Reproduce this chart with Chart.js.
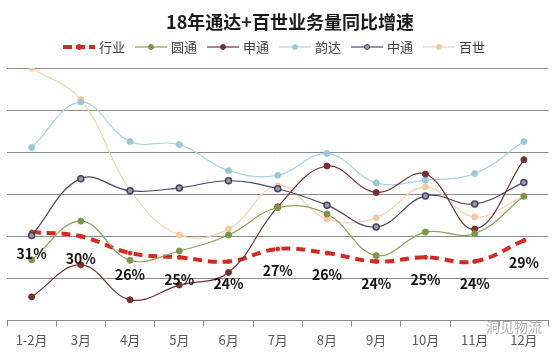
<!DOCTYPE html>
<html lang="zh">
<head>
<meta charset="utf-8">
<title>18年通达+百世业务量同比增速</title>
<script src="https://cdn.jsdelivr.net/npm/chart.js@4"></script>
<style>
    html, body { margin: 0; padding: 0; background: #fff; }
    #wrap { width: 554px; height: 354px; position: relative; }
</style>
</head>
<body>
<div id="wrap"><canvas id="growth-chart" width="554" height="354"></canvas></div>
<script>
// --- DATA ---
const TITLE = '18年通达+百世业务量同比增速';
const MONTHS = ['1-2月', '3月', '4月', '5月', '6月', '7月', '8月', '9月', '10月', '11月', '12月'];
const SERIES_NAMES = ['行业', '圆通', '申通', '韵达', '中通', '百世'];
const INDUSTRY = [31, 30, 26, 25, 24, 27, 26, 24, 25, 24, 29];
const YUANTONG = [24.4, 33.6, 24.3, 26.5, 30.3, 36.8, 35.3, 25.4, 31.0, 30.6, 39.5];
const SHENTONG = [15.6, 23.2, 14.9, 18.4, 21.4, 37.0, 46.7, 40.4, 44.8, 31.7, 48.2];
const YUNDA = [51.1, 61.9, 52.5, 51.8, 45.6, 44.5, 49.7, 42.7, 43.3, 44.9, 52.5];
const ZHONGTONG = [30.2, 43.7, 40.8, 41.5, 43.2, 41.3, 37.4, 32.2, 39.6, 37.7, 42.8];
const BAISHI = [70, 62.5, 41.0, 30.3, 31.7, 42.0, 34.1, 34.4, 41.7, 34.6, 39.6];
const WATERMARK = '洞见物流';

document.addEventListener('DOMContentLoaded', () => {
    const FONT = '"Noto Sans CJK SC", "Noto Sans", sans-serif';

    // line colour, marker fill, marker border
    const STYLES = [
        { line: '#d42a22', fill: '#d42a22', border: '#d42a22', width: 4, dash: [9, 6], radius: 2 },
        { line: '#8ea25e', fill: '#7b9646', border: '#7b9646', width: 1.2, dash: [], radius: 3 },
        { line: '#6e3438', fill: '#7a2f33', border: '#7a2f33', width: 1.2, dash: [], radius: 3 },
        { line: '#a9d2dc', fill: '#9cc8d4', border: '#9cc8d4', width: 1.2, dash: [], radius: 3 },
        { line: '#4b4862', fill: '#9a98ae', border: '#47445e', width: 1.2, dash: [], radius: 3 },
        { line: '#f3d2b0', fill: '#f2caa0', border: '#f2caa0', width: 1.2, dash: [], radius: 3 },
    ];
    const VALUES = [INDUSTRY, YUANTONG, SHENTONG, YUNDA, ZHONGTONG, BAISHI];

    const datasets = SERIES_NAMES.map((name, i) => ({
        label: name,
        data: VALUES[i],
        borderColor: STYLES[i].line,
        borderWidth: STYLES[i].width,
        borderDash: STYLES[i].dash,
        backgroundColor: STYLES[i].fill,
        pointBackgroundColor: STYLES[i].fill,
        pointBorderColor: STYLES[i].border,
        pointBorderWidth: i === 4 ? 1.5 : 1,
        pointRadius: STYLES[i].radius,
        tension: 0.4,
        fill: false,
        order: i === 0 ? 10 : i,
    }));

    // title, legend, industry labels and watermark
    const decorPlugin = {
        id: 'decor',
        afterDraw(chart) {
            const ctx = chart.ctx;
            ctx.save();

            ctx.fillStyle = '#1a1a1a';
            ctx.font = `bold 18px ${FONT}`;
            ctx.textAlign = 'center';
            ctx.textBaseline = 'middle';
            ctx.fillText(TITLE, 290, 22);

            // legend
            ctx.font = `13px ${FONT}`;
            ctx.textAlign = 'left';
            let x = 63;
            const y = 47;
            SERIES_NAMES.forEach((name, i) => {
                const s = STYLES[i];
                ctx.strokeStyle = s.line;
                ctx.lineWidth = s.width;
                ctx.setLineDash(i === 0 ? [9, 4] : []);
                ctx.beginPath();
                ctx.moveTo(x, y);
                ctx.lineTo(x + 32, y);
                ctx.stroke();
                ctx.setLineDash([]);
                ctx.fillStyle = s.fill;
                ctx.strokeStyle = s.border;
                ctx.lineWidth = 1;
                ctx.beginPath();
                ctx.arc(x + 16, y, 2.5, 0, Math.PI * 2);
                ctx.fill();
                ctx.stroke();
                ctx.fillStyle = '#404040';
                ctx.fillText(name, x + 36, y);
                x += 72;
            });

            // industry percentage labels
            const meta = chart.getDatasetMeta(0);
            ctx.fillStyle = '#111';
            ctx.font = `bold 14px ${FONT}`;
            ctx.textAlign = 'center';
            meta.data.forEach((pt, i) => {
                ctx.fillText(INDUSTRY[i] + '%', pt.x, pt.y + 22);
            });

            // watermark
            ctx.fillStyle = 'rgba(150,150,150,0.75)';
            ctx.font = `14px ${FONT}`;
            ctx.textAlign = 'left';
            ctx.fillText(WATERMARK, 486, 327);
            ctx.restore();
        }
    };

    new Chart(document.getElementById('growth-chart').getContext('2d'), {
        type: 'line',
        data: { labels: MONTHS, datasets },
        options: {
            responsive: false,
            animation: false,
            layout: { padding: { top: 68, left: 7, right: 2, bottom: 0 } },
            plugins: { legend: { display: false }, title: { display: false }, tooltip: { enabled: false } },
            scales: {
                x: {
                    offset: true,
                    grid: { offset: true, drawOnChartArea: false, tickLength: 6, color: '#8c8c8c' },
                    border: { color: '#8c8c8c' },
                    ticks: { color: '#595959', font: { size: 13, family: FONT }, padding: 6, maxRotation: 0 },
                },
                y: {
                    min: 10,
                    max: 70,
                    ticks: { display: false, stepSize: 10 },
                    grid: { drawTicks: false, color: '#8c8c8c' },
                    border: { display: false },
                },
            },
        },
        plugins: [decorPlugin],
    });
});
</script>
</body>
</html>
